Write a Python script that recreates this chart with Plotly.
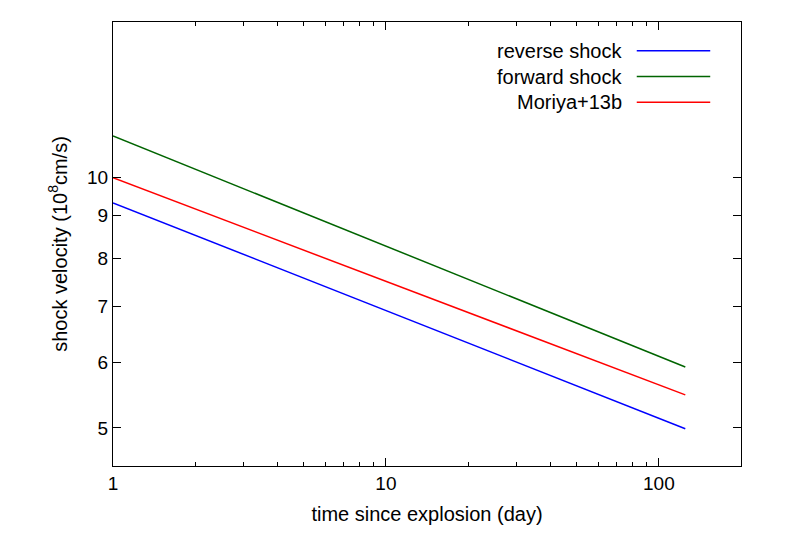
import plotly.graph_objects as go

days = [1, 125]
reverse_shock = [9.33, 4.99]
forward_shock = [11.23, 5.92]
moriya13b = [10.0, 5.48]

names = ["reverse shock", "forward shock", "Moriya+13b"]
colors = ["#0000ff", "#006400", "#ff0000"]
series = [reverse_shock, forward_shock, moriya13b]

fig = go.Figure()
for name, col, ys in zip(names, colors, series):
    fig.add_trace(go.Scatter(x=days, y=ys, mode="lines", name=name,
                             line=dict(color=col, width=1.5), showlegend=False))

# gnuplot-style legend: text right-aligned, sample line on the right
for i, (name, col) in enumerate(zip(names, colors)):
    yp = 0.935 - i * 0.058
    fig.add_annotation(text=name, xref="paper", yref="paper", x=0.814, y=yp,
                       xanchor="right", yanchor="middle", showarrow=False,
                       font=dict(size=20, color="black"))
    fig.add_shape(type="line", xref="paper", yref="paper",
                  x0=0.834, x1=0.951, y0=yp, y1=yp, line=dict(color=col, width=1.5))

axis_common = dict(type="log", showgrid=False, zeroline=False, ticks="inside",
                   mirror="allticks", showline=True, linecolor="black", linewidth=1,
                   tickcolor="black", ticklen=8, tickfont=dict(size=19, color="black"))

fig.update_xaxes(range=[0, 2.301], tickvals=[1, 10, 100],
                 minor=dict(ticks="inside", ticklen=4, tickcolor="black",
                            tickvals=[2, 3, 4, 5, 6, 7, 8, 9, 20, 30, 40, 50, 60, 70, 80, 90, 200]),
                 title=dict(text="time since explosion (day)", font=dict(size=20), standoff=14),
                 **axis_common)
fig.update_yaxes(range=[0.6532, 1.1875], tickvals=[5, 6, 7, 8, 9, 10],
                 title=dict(text="shock velocity (10<sup>8</sup>cm/s)", font=dict(size=20), standoff=14),
                 **axis_common)

fig.update_layout(width=789, height=552, plot_bgcolor="white", paper_bgcolor="white",
                  margin=dict(l=105, r=56, t=14, b=94),
                  font=dict(family="Liberation Sans", color="black"))

fig.write_html("out.html")
